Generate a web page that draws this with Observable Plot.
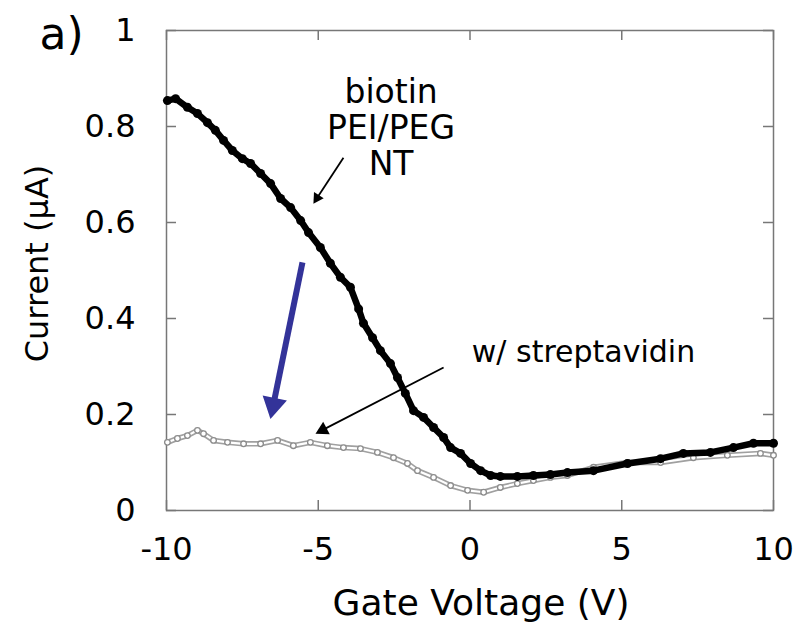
<!DOCTYPE html>
<html>
<head>
<meta charset="utf-8">
<script src="https://cdn.jsdelivr.net/npm/d3@7"></script>
<script src="https://cdn.jsdelivr.net/npm/@observablehq/plot@0.6"></script>
<style>
  html, body { margin: 0; padding: 0; background: white; }
</style>
</head>
<body>
<div id="chart"></div>
<script>
// Biotin PEI/PEG NT (black filled markers)
const biotinV = [-9.97, -9.7, -9.31, -8.98, -8.65, -8.39, -8.12, -7.83, -7.5, -7.23, -6.9, -6.57, -6.24, -5.91, -5.58, -5.32, -4.93, -4.6, -4.27, -3.94, -3.67, -3.51, -3.21, -2.95, -2.62, -2.39, -2.13, -1.86, -1.53, -1.2, -0.87, -0.64, -0.31, 0.02, 0.35, 0.68, 1.0, 1.56, 2.09, 2.65, 3.21, 4.07, 5.19, 6.28, 7.03, 7.92, 8.68, 9.34, 10];
const biotinI = [0.854, 0.858, 0.84, 0.827, 0.808, 0.792, 0.771, 0.75, 0.733, 0.723, 0.702, 0.681, 0.65, 0.631, 0.604, 0.579, 0.548, 0.515, 0.486, 0.465, 0.42, 0.39, 0.36, 0.333, 0.306, 0.277, 0.244, 0.208, 0.194, 0.173, 0.152, 0.131, 0.119, 0.098, 0.083, 0.073, 0.071, 0.071, 0.073, 0.075, 0.079, 0.083, 0.098, 0.108, 0.119, 0.121, 0.131, 0.14, 0.14];

// w/ streptavidin (gray open markers)
const streptV = [-9.97, -9.64, -9.31, -8.98, -8.78, -8.45, -7.99, -7.46, -6.9, -6.34, -5.82, -5.26, -4.7, -4.17, -3.61, -3.05, -2.52, -2.06, -1.73, -1.2, -0.64, -0.08, 0.45, 1.0, 1.56, 2.09, 2.65, 3.21, 4.07, 5.19, 6.28, 7.36, 8.48, 9.57, 10];
const streptI = [0.142, 0.15, 0.156, 0.167, 0.16, 0.146, 0.142, 0.139, 0.139, 0.146, 0.135, 0.142, 0.135, 0.131, 0.129, 0.121, 0.11, 0.098, 0.083, 0.069, 0.052, 0.042, 0.038, 0.048, 0.056, 0.0625, 0.069, 0.073, 0.09, 0.1, 0.1, 0.11, 0.115, 0.119, 0.115];

const xTicks = [-10, -5, 0, 5, 10];
const yTicks = [0, 0.2, 0.4, 0.6, 0.8, 1];

const xLabel = "Gate Voltage (V)";
const yLabel = "Current (µA)";
const panelLabel = "a)";
const label1 = "biotin\nPEI/PEG\nNT";
const label2 = "w/ streptavidin";

const biotin = biotinV.map((v, i) => ({v, c: biotinI[i]}));
const strept = streptV.map((v, i) => ({v, c: streptI[i]}));

const axisColor = "#777";
const blue = "#333399";
const font = "DejaVu Sans";

const chart = Plot.plot({
  width: 798,
  height: 625,
  marginLeft: 166,
  marginRight: 25,
  marginTop: 30,
  marginBottom: 115,
  x: {domain: [-10, 10]},
  y: {domain: [0, 1]},
  style: {fontFamily: font, fontSize: "32px", background: "white", color: "black", overflow: "visible"},
  marks: [
    Plot.frame({stroke: axisColor, strokeWidth: 1.5}),
    // inward ticks on all four sides
    Plot.tickX(xTicks, {x: d => d, insetTop: 470, stroke: axisColor, strokeWidth: 1.5}),
    Plot.tickX(xTicks, {x: d => d, insetBottom: 470, stroke: axisColor, strokeWidth: 1.5}),
    Plot.tickY(yTicks, {y: d => d, insetRight: 597, stroke: axisColor, strokeWidth: 1.5}),
    Plot.tickY(yTicks, {y: d => d, insetLeft: 597, stroke: axisColor, strokeWidth: 1.5}),
    Plot.axisX(xTicks, {tickSize: 0, tickPadding: 27, tickFormat: d => String(d), label: null, fontSize: 32}),
    Plot.axisY(yTicks, {tickSize: 0, tickPadding: 31, tickFormat: d => String(d), label: null, fontSize: 32}),
    // streptavidin series (hollow gray markers)
    Plot.line(strept, {x: "v", y: "c", stroke: "#a0a0a0", strokeWidth: 5.5}),
    Plot.line(strept, {x: "v", y: "c", stroke: "white", strokeWidth: 2.2}),
    Plot.dot(strept, {x: "v", y: "c", r: 2.8, stroke: "#8c8c8c", fill: "white", strokeWidth: 1.3}),
    // biotin series (filled black markers)
    Plot.line(biotin, {x: "v", y: "c", stroke: "black", strokeWidth: 6.5}),
    Plot.dot(biotin, {x: "v", y: "c", r: 4.5, fill: "black"}),
    // annotations
    Plot.text([label1], {x: -2.6, y: 0.798, fontSize: 33, lineHeight: 1.09, fill: "black"}),
    Plot.link([0], {x1: -4.17, y1: 0.735, x2: -5.04, y2: 0.651, stroke: "black", strokeWidth: 1.8}),
    Plot.dot([0], {x: -5.04, y: 0.651, symbol: "triangle", r: 4.3, rotate: 213, fill: "black", stroke: "none"}),
    Plot.text([label2], {x: 3.74, y: 0.329, fontSize: 30, fill: "black"}),
    Plot.link([0], {x1: -0.87, y1: 0.298, x2: -4.85, y2: 0.168, stroke: "black", strokeWidth: 1.8}),
    Plot.dot([0], {x: -4.85, y: 0.168, symbol: "triangle", r: 5.3, rotate: 242.7, fill: "black", stroke: "none"}),
    Plot.link([0], {x1: -5.52, y1: 0.517, x2: -6.48, y2: 0.22, stroke: blue, strokeWidth: 6}),
    Plot.dot([0], {x: -6.48, y: 0.22, symbol: "triangle", r: 9.2, rotate: 191.6, fill: blue, stroke: "none"}),
    // titles
    Plot.text([xLabel], {frameAnchor: "bottom", dx: 11, dy: 104, fontSize: 36, fill: "black"}),
    Plot.text([yLabel], {frameAnchor: "left", rotate: -90, textAnchor: "middle", dx: -129, dy: -7, fontSize: 32, fill: "black"}),
    Plot.text([panelLabel], {frameAnchor: "top-left", dx: -127, dy: -13, fontSize: 44, fill: "black"})
  ]
});
document.getElementById("chart").appendChild(chart);
</script>
</body>
</html>
